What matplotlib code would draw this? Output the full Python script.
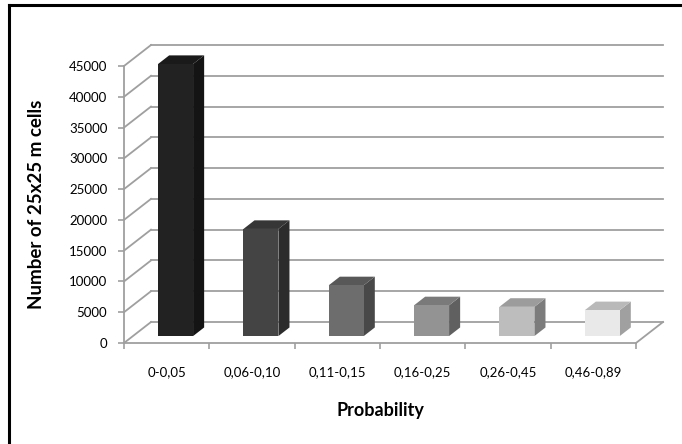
import numpy as np
import matplotlib
matplotlib.use('Agg')
import matplotlib.pyplot as plt
from matplotlib.patches import Polygon
from matplotlib.lines import Line2D

plt.rcParams['font.family'] = ['Lato', 'DejaVu Sans']

# data
categories = ['0-0,05', '0,06-0,10', '0,11-0,15', '0,16-0,25', '0,26-0,45', '0,46-0,89']
cell_counts = [44200, 17400, 8250, 5000, 4750, 4200]
y_ticks = [0, 5000, 10000, 15000, 20000, 25000, 30000, 35000, 40000, 45000]

# greys for front / side / top faces of each column
front_cols = ['#222222', '#444444', '#6d6d6d', '#939393', '#bdbdbd', '#e9e9e9']
side_cols = ['#141414', '#2c2c2c', '#484848', '#606060', '#7c7c7c', '#a0a0a0']
top_cols = ['#1a1a1a', '#363636', '#585858', '#7a7a7a', '#9c9c9c', '#b9b9b9']

W, H = 682, 444
fig = plt.figure(figsize=(W / 100, H / 100), dpi=100)
fig.patch.set_facecolor('white')

# front plane of the 3d box
ax = fig.add_axes([124 / W, 1 - 343 / H, 512 / W, 277 / H])
ax.set_facecolor('none')
ax.set_xlim(-0.5, len(categories) - 0.5)
ax.set_ylim(0, 45000)

# depth of the box (pixels) converted to data units
depth_px = (27, 21)
bb = ax.get_position()
ux = depth_px[0] / (bb.width * W) * (ax.get_xlim()[1] - ax.get_xlim()[0])
uy = depth_px[1] / (bb.height * H) * (ax.get_ylim()[1] - ax.get_ylim()[0])

grid_col = '#9f9f9f'
x0, x1 = ax.get_xlim()
for v in y_ticks:
    ax.plot([x0, x0 + ux], [v, v + uy], color=grid_col, lw=1.3, clip_on=False, zorder=1)
    ax.plot([x0 + ux, x1 + ux], [v + uy, v + uy], color=grid_col, lw=1.3, clip_on=False, zorder=1)
# right edge of the floor
ax.plot([x1, x1 + ux], [0, uy], color=grid_col, lw=1.3, clip_on=False, zorder=1)

# columns
xs = np.arange(len(categories))
w = 0.41
d0, d1 = 0.33, 0.74
ax.bar(xs + d0 * ux, cell_counts, width=w, bottom=d0 * uy, color=front_cols,
       clip_on=False, zorder=4, linewidth=0)
for i, v in enumerate(cell_counts):
    xl = xs[i] - w / 2
    xr = xs[i] + w / 2
    side = [(xr + d0 * ux, d0 * uy), (xr + d0 * ux, v + d0 * uy),
            (xr + d1 * ux, v + d1 * uy), (xr + d1 * ux, d1 * uy)]
    top = [(xl + d0 * ux, v + d0 * uy), (xr + d0 * ux, v + d0 * uy),
           (xr + d1 * ux, v + d1 * uy), (xl + d1 * ux, v + d1 * uy)]
    ax.add_patch(Polygon(side, closed=True, facecolor=side_cols[i], edgecolor='none',
                         clip_on=False, zorder=3))
    ax.add_patch(Polygon(top, closed=True, facecolor=top_cols[i], edgecolor='none',
                         clip_on=False, zorder=3))

# axes styling
for s in ['top', 'right']:
    ax.spines[s].set_visible(False)
for s in ['left', 'bottom']:
    ax.spines[s].set_color(grid_col)
    ax.spines[s].set_linewidth(1.3)
    ax.spines[s].set_zorder(2)

ax.set_yticks(y_ticks)
ax.set_yticklabels([str(t) for t in y_ticks])
ax.tick_params(axis='y', direction='out', length=4, width=1.2, color=grid_col,
               labelsize=9.5, pad=8)
ax.set_xticks(xs)
ax.set_xticklabels(categories)
ax.set_xticks(np.arange(len(categories) + 1) - 0.5, minor=True)
ax.tick_params(axis='x', which='major', length=0, labelsize=9.5, pad=17)
ax.tick_params(axis='x', which='minor', direction='out', length=4.5, width=1.2, color=grid_col)

ax.set_xlabel('Probability', fontsize=13, fontweight='bold', labelpad=17)
ax.set_ylabel('Number of 25x25 m cells', fontsize=13.5, fontweight='bold', labelpad=17)

# black frame around the chart area (cut off on the right and bottom)
fig.add_artist(Line2D([9 / W, 9 / W], [0, 1 - 5 / H], transform=fig.transFigure,
                      color='black', lw=2.2))
fig.add_artist(Line2D([9 / W, 1], [1 - 5 / H, 1 - 5 / H], transform=fig.transFigure,
                      color='black', lw=2.2))

fig.savefig('out.png', dpi=100)
